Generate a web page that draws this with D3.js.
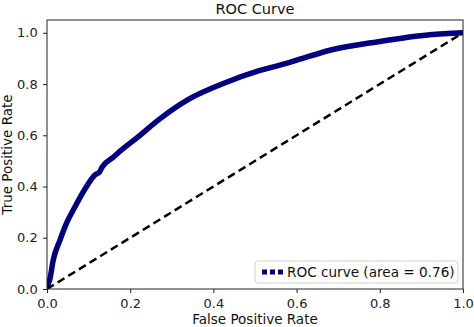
<!DOCTYPE html>
<html>
<head>
<meta charset="utf-8">
<script src="https://cdn.jsdelivr.net/npm/d3@7"></script>
<style>
  html, body { margin: 0; padding: 0; background: #fff; }
  svg { display: block; font-family: "DejaVu Sans", sans-serif; }
</style>
</head>
<body>
<svg id="chart" width="474" height="327"></svg>
<script>
const fpr = [0, 0.003, 0.007, 0.015, 0.031, 0.047, 0.067, 0.095, 0.115, 0.127, 0.132, 0.16, 0.175, 0.216, 0.272, 0.34, 0.416, 0.512, 0.56, 0.60, 0.68, 0.80, 0.92, 1.0];
const tpr = [0, 0.02, 0.04, 0.113, 0.19, 0.257, 0.32, 0.40, 0.445, 0.458, 0.475, 0.515, 0.537, 0.59, 0.665, 0.74, 0.797, 0.853, 0.874, 0.893, 0.932, 0.966, 0.992, 1.0];
const chanceX = [0, 1];
const chanceY = [0, 1];
const xTicks = [0, 0.2, 0.4, 0.6, 0.8, 1.0];
const yTicks = [0, 0.2, 0.4, 0.6, 0.8, 1.0];
const title = "ROC Curve";
const xLabel = "False Positive Rate";
const yLabel = "True Positive Rate";
const legendLabel = "ROC curve (area = 0.76)";

const svg = d3.select("#chart");
const L = 47, R = 463, T = 20, B = 289;
const x = d3.scaleLinear().domain([0, 1]).range([L, R]);
const y = d3.scaleLinear().domain([0, 1.05]).range([B, T]);

svg.append("defs").append("clipPath").attr("id", "clip")
  .append("rect").attr("x", L).attr("y", T).attr("width", R - L).attr("height", B - T);

const plot = svg.append("g").attr("clip-path", "url(#clip)");

const line = d3.line().x(d => x(d[0])).y(d => y(d[1]));
const smooth = d3.line().x(d => x(d[0])).y(d => y(d[1])).curve(d3.curveMonotoneX);

plot.append("path")
  .datum(fpr.map((f, i) => [f, tpr[i]]))
  .attr("d", smooth)
  .attr("fill", "none")
  .attr("stroke", "#000080")
  .attr("stroke-width", 5.5)
  .attr("stroke-linejoin", "round")
  .attr("stroke-linecap", "butt");

plot.append("path")
  .datum(chanceX.map((c, i) => [c, chanceY[i]]))
  .attr("d", line)
  .attr("fill", "none")
  .attr("stroke", "#000")
  .attr("stroke-width", 2.5)
  .attr("stroke-dasharray", "8,4.5");

// axes
const xAxis = d3.axisBottom(x).tickValues(xTicks).tickFormat(d3.format(".1f")).tickSize(4).tickPadding(6).tickSizeOuter(0);
const yAxis = d3.axisLeft(y).tickValues(yTicks).tickFormat(d3.format(".1f")).tickSize(4).tickPadding(5.3).tickSizeOuter(0);

const gx = svg.append("g").attr("transform", `translate(0,${B})`).call(xAxis);
const gy = svg.append("g").attr("transform", `translate(${L},0)`).call(yAxis);
[gx, gy].forEach(g => {
  g.select(".domain").remove();
  g.selectAll(".tick line").attr("stroke", "#222").attr("stroke-width", 1);
  g.selectAll(".tick text").attr("fill", "#222").style("font-size", "13px").style("font-family", "DejaVu Sans");
});

// spines
svg.append("rect")
  .attr("x", L).attr("y", T).attr("width", R - L).attr("height", B - T)
  .attr("fill", "none").attr("stroke", "#222").attr("stroke-width", 1);

// title & labels
svg.append("text").attr("x", (L + R) / 2).attr("y", 14).attr("text-anchor", "middle")
  .style("font-size", "14.5px").attr("fill", "#111").text(title);
svg.append("text").attr("x", (L + R) / 2).attr("y", 324).attr("text-anchor", "middle")
  .style("font-size", "13.5px").attr("fill", "#111").text(xLabel);
svg.append("text").attr("transform", `translate(12,${(T + B) / 2}) rotate(-90)`).attr("text-anchor", "middle")
  .style("font-size", "13.5px").attr("fill", "#111").text(yLabel);

// legend
const lg = svg.append("g");
const lx = 255, ly = 261, lw = 203, lh = 22;
lg.append("rect").attr("x", lx).attr("y", ly).attr("width", lw).attr("height", lh)
  .attr("rx", 3).attr("fill", "#fff").attr("fill-opacity", 0.8)
  .attr("stroke", "#d0d0d0").attr("stroke-width", 1);
lg.append("line").attr("x1", lx + 7).attr("x2", lx + 28).attr("y1", ly + lh / 2).attr("y2", ly + lh / 2)
  .attr("stroke", "#000080").attr("stroke-width", 5).attr("stroke-dasharray", "5,3");
lg.append("text").attr("x", lx + 32).attr("y", ly + 15.5).style("font-size", "13.6px").attr("fill", "#111").text(legendLabel);
</script>
</body>
</html>
